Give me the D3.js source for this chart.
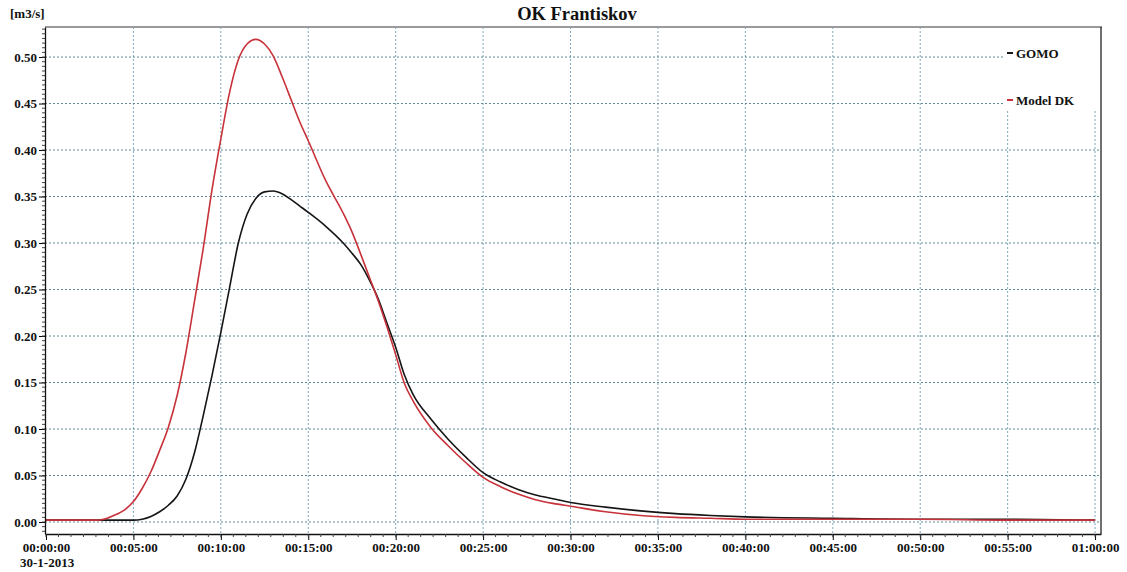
<!DOCTYPE html>
<html>
<head>
<meta charset="utf-8">
<script src="https://cdn.jsdelivr.net/npm/d3@7"></script>
<style>
  body { margin: 0; background: #fff; }
  svg { display: block; }
  text { font-family: "Liberation Serif", "Times New Roman", "DejaVu Serif", serif; font-weight: bold; fill: #111; }
</style>
</head>
<body>
<script>
// time in minutes since 00:00:00
const minutes = [0, 1, 2, 3, 3.5, 4, 4.5, 5, 5.5, 6, 6.5, 7, 7.5, 8, 8.5, 9, 9.5, 10, 10.5, 11, 11.5, 12, 12.5, 13, 13.5, 14, 14.5, 15, 16, 17, 17.5, 18, 18.5, 19, 19.5, 20, 20.5, 21, 22, 23, 24, 25, 26, 27, 28, 29, 30, 32, 34, 36, 38, 40, 45, 50, 55, 60]

const gomo = [0.002, 0.002, 0.002, 0.002, 0.002, 0.002, 0.002, 0.002, 0.003, 0.006, 0.011, 0.018, 0.028, 0.046, 0.075, 0.115, 0.158, 0.204, 0.252, 0.300, 0.331, 0.348, 0.355, 0.356, 0.353, 0.347, 0.340, 0.333, 0.318, 0.300, 0.289, 0.277, 0.260, 0.240, 0.214, 0.188, 0.158, 0.137, 0.111, 0.089, 0.070, 0.053, 0.043, 0.035, 0.029, 0.025, 0.021, 0.016, 0.012, 0.009, 0.007, 0.0055, 0.004, 0.003, 0.003, 0.002]

const modelDK = [0.002, 0.002, 0.002, 0.002, 0.004, 0.008, 0.013, 0.022, 0.036, 0.054, 0.077, 0.102, 0.136, 0.182, 0.238, 0.295, 0.358, 0.412, 0.462, 0.497, 0.514, 0.519, 0.514, 0.501, 0.479, 0.455, 0.431, 0.410, 0.367, 0.332, 0.312, 0.288, 0.263, 0.238, 0.210, 0.180, 0.149, 0.130, 0.102, 0.082, 0.064, 0.048, 0.038, 0.030, 0.024, 0.020, 0.017, 0.011, 0.007, 0.005, 0.004, 0.003, 0.003, 0.003, 0.002, 0.002]

const yTicks = [0, 0.05, 0.10, 0.15, 0.20, 0.25, 0.30, 0.35, 0.40, 0.45, 0.50]
const xTicks = [0, 5, 10, 15, 20, 25, 30, 35, 40, 45, 50, 55, 60]

const title = 'OK Frantiskov'
const unitLabel = '[m3/s]'
const dateLabel = '30-1-2013'
const seriesNames = ['GOMO', 'Model DK']
const seriesColors = ['#151515', '#c8323a']

//-----------------------------------------------------------------------------

const width = 1127
const height = 572
const plotLeft = 45
const plotRight = 1101
const plotTop = 27
const plotBottom = 534

const x = d3.scaleLinear().domain([-0.057, 60.34]).range([plotLeft, plotRight])
const y = d3.scaleLinear().domain([-0.0129, 0.5323]).range([plotBottom, plotTop])

const svg = d3.select('body')
  .append('svg')
  .attr('width', width)
  .attr('height', height)

svg.append('defs').append('clipPath')
  .attr('id', 'plot')
  .append('rect')
  .attr('x', plotLeft).attr('y', plotTop)
  .attr('width', plotRight - plotLeft).attr('height', plotBottom - plotTop)

// grid
svg.append('g')
  .selectAll('line')
  .data(xTicks.filter(d => d > 0))
  .enter()
  .append('line')
  .attr('x1', d => x(d)).attr('x2', d => x(d))
  .attr('y1', plotTop).attr('y2', plotBottom)
  .attr('stroke', '#7fa9bd')
  .attr('stroke-width', 1)
  .attr('stroke-dasharray', '2,2')

svg.append('g')
  .selectAll('line')
  .data(yTicks)
  .enter()
  .append('line')
  .attr('x1', plotLeft).attr('x2', plotRight)
  .attr('y1', d => y(d)).attr('y2', d => y(d))
  .attr('stroke', '#5f8795')
  .attr('stroke-width', 1)
  .attr('stroke-dasharray', '2,2')

// series
const line = d3.line()
  .x(d => x(d[0]))
  .y(d => y(d[1]))
  .curve(d3.curveMonotoneX)

const series = [gomo, modelDK]
svg.append('g')
  .attr('clip-path', 'url(#plot)')
  .selectAll('path')
  .data(series)
  .enter()
  .append('path')
  .attr('d', vals => line(minutes.map((m, i) => [m, vals[i]])))
  .attr('fill', 'none')
  .attr('stroke', (d, i) => seriesColors[i])
  .attr('stroke-width', 1.6)

// legend box (covers grid)
svg.append('rect')
  .attr('x', 1003).attr('y', plotTop + 1)
  .attr('width', plotRight - 1003).attr('height', 83)
  .attr('fill', '#fff')

const legend = svg.append('g')
  .selectAll('g')
  .data(seriesNames)
  .enter()
  .append('g')
  .attr('transform', (d, i) => `translate(1007, ${53 + i * 47})`)
legend.append('line')
  .attr('x1', 0).attr('x2', 6)
  .attr('stroke', (d, i) => seriesColors[i])
  .attr('stroke-width', 2)
legend.append('text')
  .attr('x', 9).attr('dy', '0.35em')
  .style('font-size', '13px')
  .text(d => d)

// frame
svg.append('line')
  .attr('x1', plotLeft).attr('x2', plotRight + 1)
  .attr('y1', plotTop).attr('y2', plotTop)
  .attr('stroke', '#9a9a9a').attr('stroke-width', 2)
svg.append('line')
  .attr('x1', plotRight).attr('x2', plotRight)
  .attr('y1', plotTop).attr('y2', plotBottom)
  .attr('stroke', '#111').attr('stroke-width', 1.2)

// y axis
const yAxis = svg.append('g')
  .attr('transform', `translate(${plotLeft},0)`)
  .call(d3.axisLeft(y).tickValues(yTicks).tickFormat(d3.format('.2f')).tickSize(6).tickSizeOuter(0))
yAxis.attr('font-family', null)
yAxis.select('.domain').attr('stroke', '#111').attr('stroke-width', 1.3)
yAxis.selectAll('.tick text').style('font-size', '13px').attr('x', -8)
yAxis.selectAll('.minor')
  .data(d3.range(-10, 107).map(i => i * 0.005).filter(v => y(v) < plotBottom && y(v) > plotTop + 2))
  .enter()
  .append('line')
  .attr('class', 'minor')
  .attr('x1', -3).attr('x2', 0)
  .attr('y1', d => y(d)).attr('y2', d => y(d))
  .attr('stroke', '#444')

// x axis
const fmt = m => `${m === 60 ? '01' : '00'}:${String(m % 60).padStart(2, '0')}:00`
const xAxis = svg.append('g')
  .attr('transform', `translate(0,${plotBottom})`)
  .call(d3.axisBottom(x).tickValues(xTicks).tickFormat(fmt).tickSize(6).tickSizeOuter(0))
xAxis.attr('font-family', null)
xAxis.select('.domain').attr('stroke', '#111').attr('stroke-width', 1.3)
xAxis.selectAll('.tick text').style('font-size', '13px').attr('y', 9)
xAxis.selectAll('.minor')
  .data(d3.range(0, 85).map(i => i * 5 / 7))
  .enter()
  .append('line')
  .attr('class', 'minor')
  .attr('x1', d => x(d)).attr('x2', d => x(d))
  .attr('y1', 0).attr('y2', 3)
  .attr('stroke', '#444')

svg.append('text')
  .attr('x', 20).attr('y', 567)
  .style('font-size', '13px')
  .text(dateLabel)

// titles
svg.append('text')
  .attr('x', 577).attr('y', 20)
  .attr('text-anchor', 'middle')
  .style('font-size', '18.5px')
  .text(title)

svg.append('text')
  .attr('x', 10).attr('y', 18)
  .style('font-size', '13px')
  .text(unitLabel)
</script>
</body>
</html>
